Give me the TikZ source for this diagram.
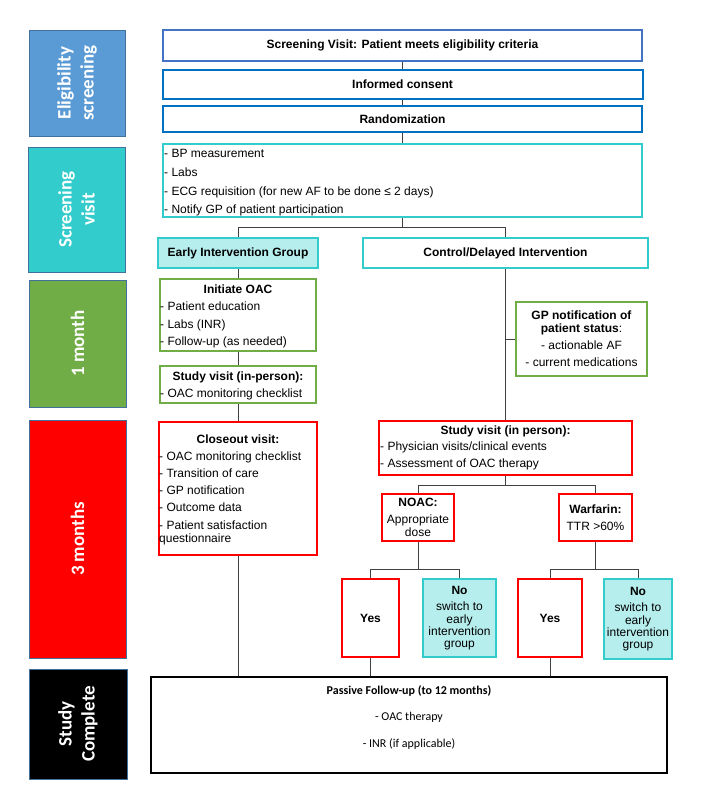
\documentclass[tikz,border=0pt]{standalone}
\usepackage{fontspec}
\setmainfont{Liberation Sans}
\newfontfamily\calibri{Carlito}
\usepackage{tikz}
\usetikzlibrary{shapes,arrows,positioning}

\definecolor{eligblue}{HTML}{5B9BD5}
\definecolor{phaseedge}{HTML}{41719C}
\definecolor{visitteal}{HTML}{33CCCC}
\definecolor{monthgreen}{HTML}{70AD47}
\definecolor{topblue}{HTML}{4472C4}
\definecolor{midblue}{HTML}{0070C0}
\definecolor{lightteal}{HTML}{B6EDED}

\begin{document}
\begin{tikzpicture}[x=1pt,y=-1pt]

\useasboundingbox (0,0) rectangle (701,801);

\tikzstyle{phase}=[rectangle,draw=phaseedge,line width=1,rotate=90,text=white,align=center,inner sep=0,font=\calibri\bfseries\fontsize{19}{23}\selectfont]
\tikzstyle{box}=[rectangle,draw,line width=2,inner sep=0,align=center,font=\fontsize{12}{17}\selectfont]
\tikzstyle{txt}=[inner sep=0,font=\fontsize{12}{17.5}\selectfont]
\tikzstyle{list}=[txt,anchor=west,align=left]
\tikzstyle{link}=[draw=black!75,line width=1]

% phases on the left
\node (elig) at (77,83) [phase,fill=eligblue,minimum width=106,minimum height=96] {Eligibility\\screening};
\node (svisit) at (76.5,209.5) [phase,fill=visitteal,minimum width=125,minimum height=97] {Screening\\visit};
\node (month1) at (77.5,343.5) [phase,fill=monthgreen,minimum width=127,minimum height=97] {1 month};
\node (month3) at (77.5,539) [phase,fill=red,minimum width=238,minimum height=97] {3 months};
\node (done) at (78,724) [phase,fill=black,minimum width=110,minimum height=98] {Study\\Complete};

% screening and randomization
\node (meets) at (402.5,45.5) [box,draw=topblue,line width=1.5,minimum width=479,minimum height=31] {\textbf{Screening Visit: Patient meets eligibility criteria}};
\node (consent) at (402.5,84.5) [box,draw=midblue,minimum width=480,minimum height=29] {\textbf{Informed consent}};
\node (random) at (402.5,119) [box,draw=midblue,minimum width=479,minimum height=26] {\textbf{Randomization}};
\node (tasks) at (402.5,180.5) [box,draw=visitteal,minimum width=479,minimum height=73] {};
\node (tasks-l) at (164,183) [list,font=\fontsize{12}{18.7}\selectfont] {- BP measurement\\- Labs\\- ECG requisition (for new AF to be done ≤ 2 days)\\- Notify GP of patient participation};

\node (early) at (238,253) [box,draw=visitteal,fill=lightteal,minimum width=160,minimum height=30] {\textbf{Early Intervention Group}};
\node (control) at (505.5,253) [box,draw=visitteal,minimum width=285,minimum height=30] {\textbf{Control/Delayed Intervention}};

% early intervention arm
\node (oac) at (238,315) [box,draw=monthgreen,minimum width=156,minimum height=72] {};
\node (oac-t) at (238,289) [txt] {\textbf{Initiate OAC}};
\node (oac-l) at (160,325) [list] {- Patient education\\- Labs (INR)\\- Follow-up (as needed)};

\node (check) at (238,384.5) [box,draw=monthgreen,minimum width=156,minimum height=37] {};
\node (check-t) at (238,377) [txt] {\textbf{Study visit (in-person):}};
\node (check-l) at (160,394) [list] {- OAC monitoring checklist};

\node (close) at (238,488.5) [box,draw=red,minimum width=158,minimum height=133] {};
\node (close-t) at (238,439) [txt] {\textbf{Closeout visit:}};
\node (close-l) at (159,498) [list,font=\fontsize{12}{17.3}\selectfont] {- OAC monitoring checklist\\- Transition of care\\- GP notification\\- Outcome data\\- Patient satisfaction\\[-4.3pt]questionnaire};

% control arm
\node (gp) at (581.5,339) [box,draw=monthgreen,minimum width=131,minimum height=74] {\textbf{GP notification of}\\[-4pt]\textbf{patient status}:\\- actionable AF\\- current medications};

\node (visit) at (505.5,448) [box,draw=red,minimum width=253,minimum height=54] {};
\node (visit-t) at (505.5,431) [txt] {\textbf{Study visit (in person):}};
\node (visit-l) at (380,455.5) [list,font=\fontsize{12}{17}\selectfont] {- Physician visits/clinical events\\- Assessment of OAC therapy};

\node (noac) at (418,517.5) [box,draw=red,minimum width=72,minimum height=47] {\textbf{NOAC:}\\Appropriate\\[-4pt]dose};
\node (warf) at (595.5,517.5) [box,draw=red,minimum width=73,minimum height=47] {\textbf{Warfarin:}\\TTR >60\%};

\node (yes1) at (370.5,618) [box,draw=red,minimum width=57,minimum height=78] {\textbf{Yes}};
\node (no1) at (459.5,618) [box,draw=visitteal,fill=lightteal,minimum width=73,minimum height=78,font=\fontsize{12}{12.3}\selectfont] {\textbf{No}\\[4.5pt]switch to\\early\\intervention\\group};
\node (yes2) at (550,618) [box,draw=red,minimum width=64,minimum height=78] {\textbf{Yes}};
\node (no2) at (638,619) [box,draw=visitteal,fill=lightteal,minimum width=68,minimum height=80,font=\fontsize{12}{12.3}\selectfont] {\textbf{No}\\[4.5pt]switch to\\early\\intervention\\group};

% follow-up
\node (passive) at (409,725) [box,draw=black,minimum width=516,minimum height=96] {};
\node (passive-t) at (409,717.5) [txt,align=center,font=\calibri\fontsize{12}{26.5}\selectfont] {\textbf{Passive Follow-up (to 12 months)}\\- OAC therapy\\- INR (if applicable)};

% connectors
\draw[link] (meets) -- (consent);
\draw[link] (consent) -- (random);
\draw[link] (random) -- (tasks);
\draw[link] (tasks.south) -- ++(0,9) -| (early.north);
\draw[link] (tasks.south) -- ++(0,9) -| (control.north);
\draw[link] (early) -- (oac);
\draw[link] (oac) -- (check);
\draw[link] (check) -- (close);
\draw[link] (close.south) -- (close.south |- passive.north);
\draw[link] (control) -- (visit);
\draw[link] (control.south |- gp.west) -- (gp.west);
\draw[link] (visit.south) -- ++(0,9) -| (noac.north);
\draw[link] (visit.south) -- ++(0,9) -| (warf.north);
\draw[link] (noac.south) -- ++(0,27) -| (yes1.north);
\draw[link] (noac.south) -- ++(0,27) -| (no1.north);
\draw[link] (warf.south) -- ++(0,27) -| (yes2.north);
\draw[link] (warf.south) -- ++(0,27) -| (no2.north);
\draw[link] (yes1.south) -- (yes1.south |- passive.north);
\draw[link] (yes2.south) -- (yes2.south |- passive.north);

\end{tikzpicture}
\end{document}
